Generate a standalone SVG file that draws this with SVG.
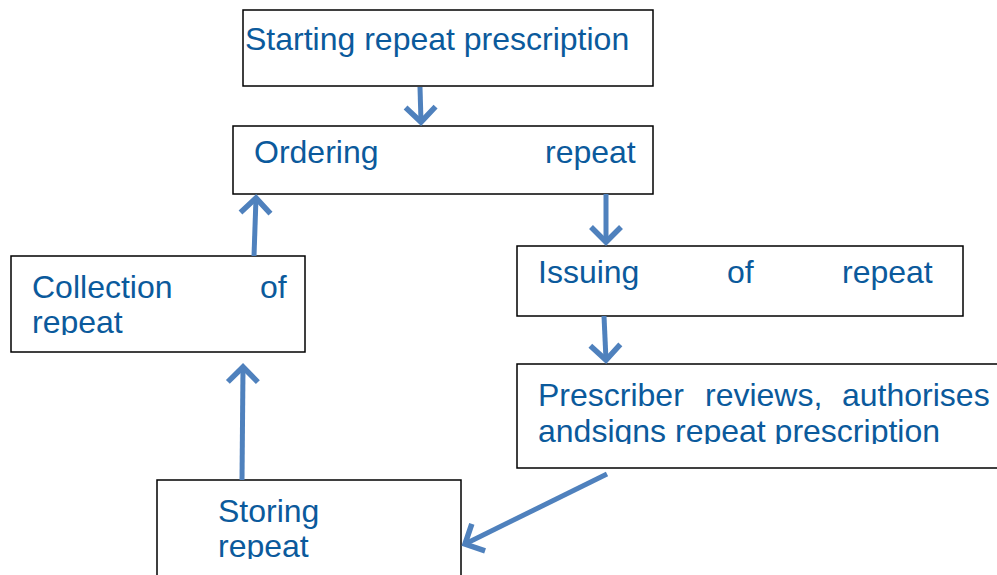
<svg xmlns="http://www.w3.org/2000/svg" width="997" height="575" viewBox="0 0 997 575">
<style>
.box{fill:#fff;stroke:#000;stroke-width:1.5}
.t{font-family:"Liberation Sans",Arial,sans-serif;font-size:32px;fill:#0b5a9c}
.c{fill:none;stroke:#4f81bd;stroke-width:5;stroke-linecap:butt}
</style>
<defs>
<marker id="ah" markerUnits="userSpaceOnUse" markerWidth="40" markerHeight="40" refX="20" refY="20" orient="auto" viewBox="0 0 40 40">
<path d="M5,5 L20,20 L5,35" fill="none" stroke="#4f81bd" stroke-width="5.5"/>
</marker>
<clipPath id="c1"><rect x="0" y="300" width="320" height="35"/></clipPath>
<clipPath id="c2"><rect x="517" y="410" width="480" height="34"/></clipPath>
<clipPath id="c3"><rect x="157" y="525" width="320" height="34"/></clipPath>
</defs>
<rect width="997" height="575" fill="#fff"/>
<g id="n1"><rect class="box" x="243" y="10" width="410" height="76"/>
<text class="t" x="245" y="50">Starting repeat prescription</text></g>
<g id="n2"><rect class="box" x="233" y="126" width="420" height="68"/>
<text class="t" y="163"><tspan x="254">Ordering</tspan><tspan x="545">repeat</tspan></text></g>
<g id="n3"><rect class="box" x="517" y="246" width="446" height="70"/>
<text class="t" y="283"><tspan x="538">Issuing</tspan><tspan x="727">of</tspan><tspan x="842">repeat</tspan></text></g>
<g id="n4"><rect class="box" x="517" y="364" width="490" height="104"/>
<text class="t" y="406"><tspan x="538">Prescriber</tspan><tspan x="705">reviews,</tspan><tspan x="842">authorises</tspan></text>
<text class="t" x="538" y="442" clip-path="url(#c2)">andsigns repeat prescription</text></g>
<g id="n5"><rect class="box" x="11" y="256" width="294" height="96"/>
<text class="t" y="298"><tspan x="32">Collection</tspan><tspan x="260">of</tspan></text>
<text class="t" x="32" y="333" clip-path="url(#c1)">repeat</text></g>
<g id="n6"><rect class="box" x="157" y="480" width="304" height="100"/>
<text class="t" x="218" y="522">Storing</text>
<text class="t" x="218" y="557" clip-path="url(#c3)">repeat</text></g>
<g id="connectors">
<line class="c" x1="420" y1="87" x2="421" y2="122" marker-end="url(#ah)"/>
<line class="c" x1="606" y1="194" x2="606" y2="242" marker-end="url(#ah)"/>
<line class="c" x1="604" y1="316" x2="606" y2="360" marker-end="url(#ah)"/>
<line class="c" x1="607" y1="474" x2="465" y2="544" marker-end="url(#ah)"/>
<line class="c" x1="242" y1="480" x2="243" y2="367" marker-end="url(#ah)"/>
<line class="c" x1="254" y1="256" x2="256" y2="198" marker-end="url(#ah)"/>
</g>
</svg>
